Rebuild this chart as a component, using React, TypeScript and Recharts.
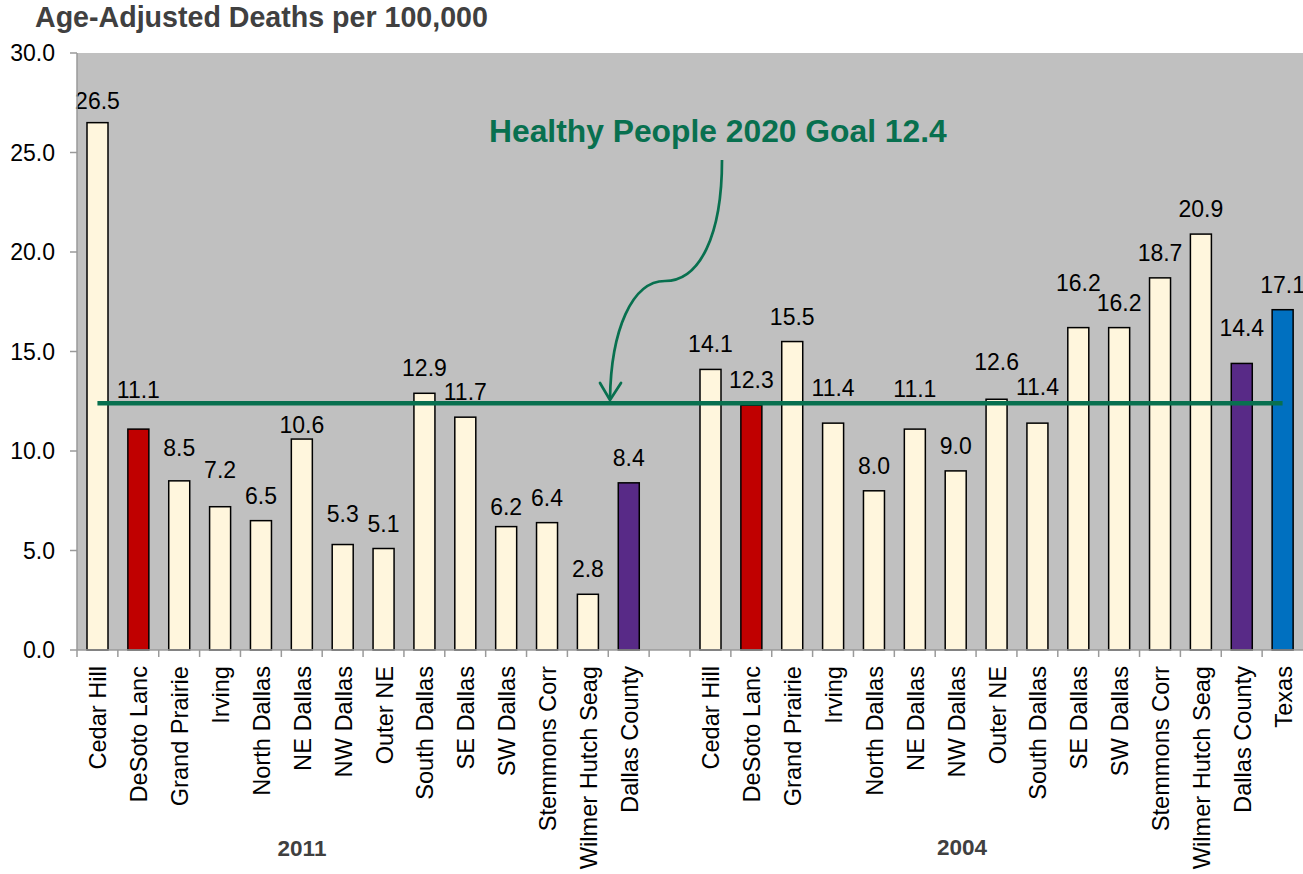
import React from 'react';
import { BarChart, Bar, XAxis, YAxis, CartesianGrid, ReferenceLine } from 'recharts';

// ---------- data ----------
const groupLabels = ['2011', '2004'];
const regions2011 = [
  'Cedar Hill', 'DeSoto Lanc', 'Grand Prairie', 'Irving', 'North Dallas', 'NE Dallas', 'NW Dallas',
  'Outer NE', 'South Dallas', 'SE Dallas', 'SW Dallas', 'Stemmons Corr', 'Wilmer Hutch Seag', 'Dallas County',
];
const values2011 = [26.5, 11.1, 8.5, 7.2, 6.5, 10.6, 5.3, 5.1, 12.9, 11.7, 6.2, 6.4, 2.8, 8.4];
const regions2004 = [
  'Cedar Hill', 'DeSoto Lanc', 'Grand Prairie', 'Irving', 'North Dallas', 'NE Dallas', 'NW Dallas',
  'Outer NE', 'South Dallas', 'SE Dallas', 'SW Dallas', 'Stemmons Corr', 'Wilmer Hutch Seag', 'Dallas County', 'Texas',
];
const values2004 = [14.1, 12.3, 15.5, 11.4, 8.0, 11.1, 9.0, 12.6, 11.4, 16.2, 16.2, 18.7, 20.9, 14.4, 17.1];
const yTicks = [0, 5, 10, 15, 20, 25, 30];
const GOAL = 12.4;
const TITLE = 'Age-Adjusted Deaths per 100,000';
const GOAL_TEXT = 'Healthy People 2020 Goal 12.4';

type Row = { key: string; name: string; value: number | null };
const rows: Row[] = [
  ...regions2011.map((name, i) => ({ key: `${groupLabels[0]}|${name}`, name, value: values2011[i] })),
  { key: 'gap', name: '', value: null },
  ...regions2004.map((name, i) => ({ key: `${groupLabels[1]}|${name}`, name, value: values2004[i] })),
];

// ---------- styles ----------
const FONT = '"Liberation Sans", Arial, Helvetica, sans-serif';
const PLOT_BG = '#C0C0C0';
const AXIS = '#9A9A9A';
const GREEN = '#08704F';
const TITLE_GRAY = '#404040';
const colorFor = (name: string) => {
  if (name === 'DeSoto Lanc') return '#C00000';
  if (name === 'Dallas County') return '#582A87';
  if (name === 'Texas') return '#0070C0';
  return '#FFF6DD';
};
// extra upward shift (px) of the manually placed value labels in the original
const LABEL_LIFT: Record<string, number> = {
  '2011|Cedar Hill': -3, '2011|DeSoto Lanc': 14, '2011|Grand Prairie': 8, '2011|Irving': 12,
  '2011|NE Dallas': -11, '2011|NW Dallas': 6, '2011|SW Dallas': -5,
  '2004|Irving': 10, '2004|NE Dallas': 15, '2004|Outer NE': 12, '2004|South Dallas': 11,
  '2004|SE Dallas': 20, '2004|Dallas County': 10,
};

const BarShape = (props: any) => {
  const { x, y, width, height, payload } = props;
  if (payload == null || payload.value == null) return null;
  const cx = x + width / 2;
  const lift = LABEL_LIFT[payload.key] || 0;
  return (
    <g>
      <rect x={x} y={y} width={width} height={height} fill={colorFor(payload.name)} stroke="#000" strokeWidth={1.5} />
      <text x={cx} y={y - 25 - lift} textAnchor="middle" dominantBaseline="central"
        fontFamily={FONT} fontSize={23} fill="#000">{payload.value.toFixed(1)}</text>
    </g>
  );
};

const CategoryTick = (props: any) => {
  const { x, y, payload } = props;
  const row = rows.find((r) => r.key === payload.value);
  const half = payload.offset || 20.43;
  const axisY = y - 16;
  return (
    <g>
      <line x1={x - half} x2={x - half} y1={axisY} y2={axisY + 7} stroke={AXIS} strokeWidth={1.5} />
      <text x={x + 1} y={y} transform={`rotate(-90, ${x + 1}, ${y})`} textAnchor="end" dominantBaseline="central"
        fontFamily={FONT} fontSize={23.6} fill="#000">{row ? row.name : ''}</text>
    </g>
  );
};

export default function App() {
  const first = rows[0].key;
  const last = rows[rows.length - 1].key;
  return (
    <div style={{ position: 'absolute', left: 0, top: 0, width: 1303, height: 874, background: '#fff' }}>
      <BarChart width={1303} height={874} data={rows} margin={{ top: 53, right: 0, left: 0, bottom: 0 }} barSize={21}>
        <CartesianGrid fill={PLOT_BG} horizontal={false} vertical={false} stroke="none" />
        <XAxis dataKey="key" interval={0} height={224} tickLine={false} tickSize={7} tickMargin={9}
          axisLine={{ stroke: AXIS, strokeWidth: 1.5 }} tick={<CategoryTick />} />
        <YAxis type="number" domain={[0, 30]} ticks={yTicks} width={77} tickSize={7} tickMargin={15}
          tickFormatter={(v: number) => v.toFixed(1)}
          axisLine={{ stroke: AXIS, strokeWidth: 1.5 }} tickLine={{ stroke: AXIS, strokeWidth: 1.5 }}
          tick={{ fontFamily: FONT, fontSize: 23, fill: '#000' }} />
        <Bar dataKey="value" isAnimationActive={false} shape={<BarShape />} />
        <ReferenceLine segment={[{ x: first, y: GOAL }, { x: last, y: GOAL }]} stroke={GREEN} strokeWidth={4.5} />
      </BarChart>
      <svg width={1303} height={874} style={{ position: 'absolute', left: 0, top: 0, pointerEvents: 'none' }}>
        <text x={35} y={27} fontFamily={FONT} fontWeight="bold" fontSize={28.6} fill={TITLE_GRAY}>{TITLE}</text>
        <text x={489} y={142} fontFamily={FONT} fontWeight="bold" fontSize={31.8} fill={GREEN}>{GOAL_TEXT}</text>
        <path d="M722,160 C722,235 700,281 665,281 C632,281 611,330 610,399" fill="none" stroke={GREEN} strokeWidth={2.7} />
        <path d="M600,383 L610,400 L621,383" fill="none" stroke={GREEN} strokeWidth={2.7} strokeLinejoin="round" strokeLinecap="round" />
        <text x={302} y={856} textAnchor="middle" fontFamily={FONT} fontWeight="bold" fontSize={22.5} fill={TITLE_GRAY}>{groupLabels[0]}</text>
        <text x={962} y={855} textAnchor="middle" fontFamily={FONT} fontWeight="bold" fontSize={22.5} fill={TITLE_GRAY}>{groupLabels[1]}</text>
      </svg>
    </div>
  );
}
